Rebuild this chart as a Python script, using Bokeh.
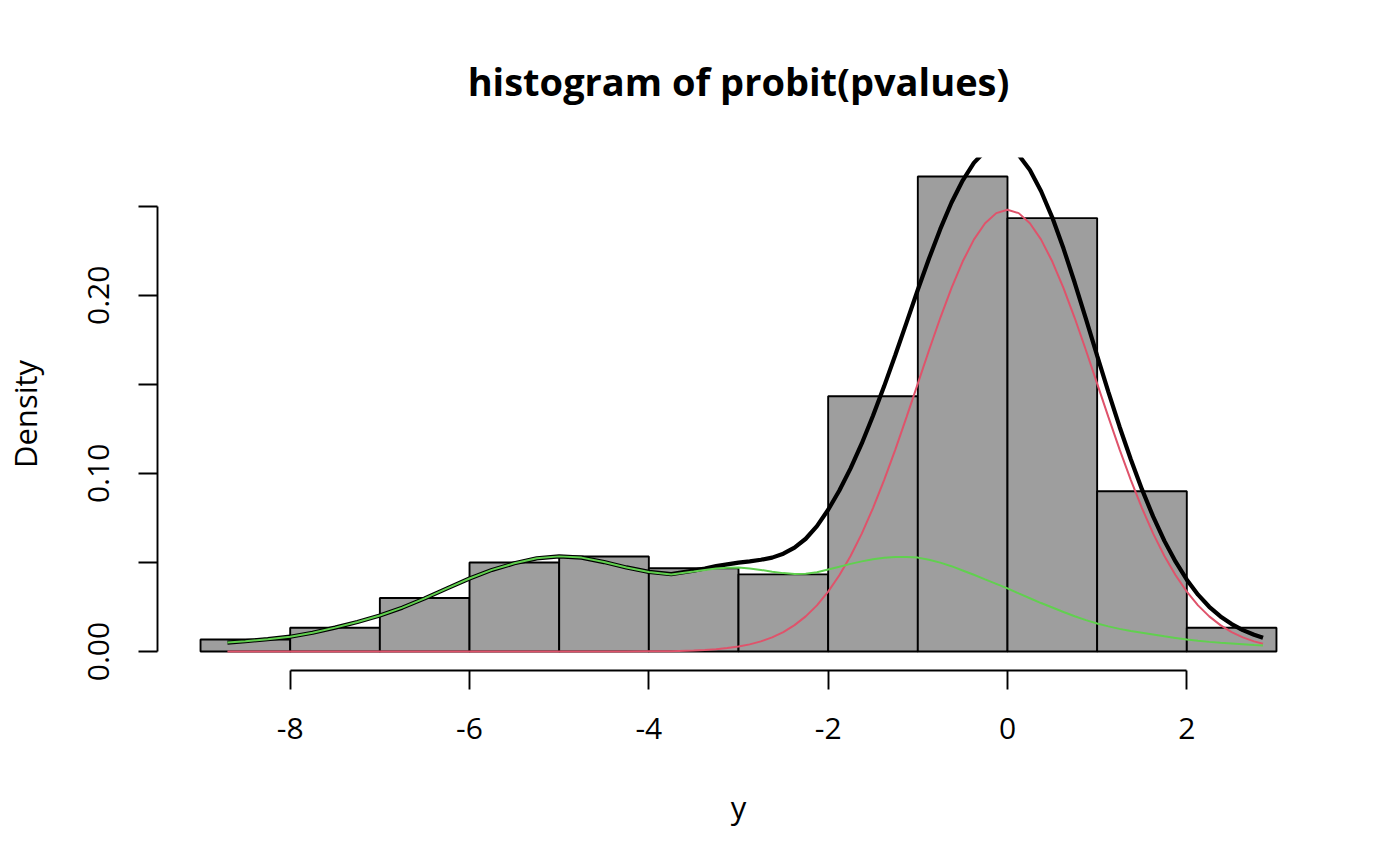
from bokeh.plotting import figure
from bokeh.models import Range1d, FixedTicker
from bokeh.embed import file_html
from bokeh.resources import INLINE

# ---- data ----
bin_left = [-9, -8, -7, -6, -5, -4, -3, -2, -1, 0, 1, 2]
bin_right = [-8, -7, -6, -5, -4, -3, -2, -1, 0, 1, 2, 3]
density = [0.0067, 0.0133, 0.0300, 0.0500, 0.0533, 0.0467, 0.0433,
           0.1433, 0.2667, 0.2433, 0.0900, 0.0133]

curve_x = [-8.7, -8.5, -8.25, -8.0, -7.75, -7.5, -7.25, -7.0, -6.75, -6.5,
           -6.25, -6.0, -5.75, -5.5, -5.25, -5.0, -4.75, -4.5, -4.25, -4.0,
           -3.75,
           -3.5, -3.375, -3.25, -3.125, -3.0, -2.875, -2.75, -2.625, -2.5, -2.375,
           -2.25, -2.125, -2.0, -1.875, -1.75, -1.625, -1.5, -1.375, -1.25, -1.125,
           -1.0, -0.875, -0.75, -0.625, -0.5, -0.375, -0.25, -0.125, 0.0, 0.125,
           0.25, 0.375, 0.5, 0.625, 0.75, 0.875, 1.0, 1.125, 1.25, 1.375,
           1.5, 1.625, 1.75, 1.875, 2.0, 2.125, 2.25, 2.375, 2.5, 2.625,
           2.75, 2.85]

null_density = [0.0, 0.0, 0.0, 0.0, 0.0, 0.0, 0.0, 0.0, 0.0, 0.0,
                0.0, 0.0, 0.0, 0.0, 0.0, 0.0, 0.0, 0.0, 0.0, 0.0001,
                0.0002,
                0.0005, 0.0008, 0.0013, 0.0019, 0.0028, 0.0040, 0.0057, 0.0079, 0.0109, 0.0148,
                0.0197, 0.0259, 0.0336, 0.0428, 0.0536, 0.0662, 0.0805, 0.0964, 0.1135, 0.1317,
                0.1504, 0.1691, 0.1872, 0.2040, 0.2189, 0.2312, 0.2404, 0.2461, 0.2480, 0.2461,
                0.2404, 0.2312, 0.2189, 0.2040, 0.1872, 0.1691, 0.1504, 0.1317, 0.1135, 0.0964,
                0.0805, 0.0662, 0.0536, 0.0428, 0.0336, 0.0259, 0.0197, 0.0148, 0.0109, 0.0079,
                0.0057, 0.0043]

alt_density = [0.0050, 0.0058, 0.0069, 0.0083, 0.0105, 0.0134, 0.0166, 0.0202, 0.0246, 0.0298,
               0.0354, 0.0410, 0.0458, 0.0495, 0.0523, 0.0534, 0.0527, 0.0502, 0.0472, 0.0446,
               0.0432,
               0.0449, 0.0458, 0.0466, 0.0470, 0.0471, 0.0466, 0.0458, 0.0448, 0.0440, 0.0435,
               0.0436, 0.0445, 0.0460, 0.0476, 0.0492, 0.0506, 0.0518, 0.0526, 0.0531, 0.0531,
               0.0527, 0.0515, 0.0499, 0.0479, 0.0455, 0.0431, 0.0405, 0.0380, 0.0354, 0.0326,
               0.0299, 0.0272, 0.0247, 0.0222, 0.0198, 0.0176, 0.0157, 0.0141, 0.0127, 0.0115,
               0.0105, 0.0095, 0.0085, 0.0076, 0.0067, 0.0060, 0.0054, 0.0049, 0.0045, 0.0041,
               0.0037, 0.0034]

total_density = [0.0050, 0.0058, 0.0069, 0.0083, 0.0105, 0.0134, 0.0166, 0.0202, 0.0246, 0.0298,
                 0.0354, 0.0410, 0.0458, 0.0495, 0.0523, 0.0534, 0.0527, 0.0502, 0.0472, 0.0447,
                 0.0434,
                 0.0454, 0.0466, 0.0479, 0.0489, 0.0499, 0.0506, 0.0515, 0.0527, 0.0549, 0.0583,
                 0.0633, 0.0704, 0.0796, 0.0904, 0.1028, 0.1168, 0.1323, 0.1490, 0.1666, 0.1848,
                 0.2031, 0.2206, 0.2371, 0.2519, 0.2644, 0.2743, 0.2809, 0.2841, 0.2834, 0.2787,
                 0.2703, 0.2584, 0.2436, 0.2262, 0.2070, 0.1867, 0.1661, 0.1458, 0.1262, 0.1079,
                 0.0910, 0.0757, 0.0621, 0.0504, 0.0403, 0.0319, 0.0251, 0.0197, 0.0154, 0.0120,
                 0.0094, 0.0077]

x_ticks = [-8, -6, -4, -2, 0, 2]
x_tick_labels = ["-8", "-6", "-4", "-2", "0", "2"]
y_ticks = [0.0, 0.05, 0.10, 0.15, 0.20, 0.25]
y_tick_labels = ["0.00", "", "0.10", "", "0.20", ""]

FONT = "Open Sans"

p = figure(width=1384, height=850, output_backend="svg", toolbar_location=None,
           x_range=Range1d(-9.48, 3.48), y_range=Range1d(-0.01067, 0.27733),
           min_border_left=157, min_border_right=65, min_border_top=157,
           min_border_bottom=180,
           title="histogram of probit(pvalues)")
p.background_fill_color = "white"
p.border_fill_color = "white"
p.outline_line_color = None
p.grid.visible = False

p.title.align = "center"
p.title.text_font = FONT
p.title.text_font_size = "38px"
p.title.text_font_style = "bold"
p.title.text_color = "black"
p.title.standoff = 101

p.quad(left=bin_left, right=bin_right, bottom=0, top=density,
       fill_color="#9E9E9E", line_color="black", line_width=1.9)

p.line(curve_x, total_density, line_color="black", line_width=4.2)
p.line(curve_x, null_density, line_color="#DF536B", line_width=2)
p.line(curve_x, alt_density, line_color="#61D04F", line_width=2)

for ax in (p.xaxis[0], p.yaxis[0]):
    ax.axis_line_width = 1.9
    ax.axis_line_color = "black"
    ax.major_tick_line_width = 1.9
    ax.major_tick_line_color = "black"
    ax.major_tick_out = 19
    ax.major_tick_in = 0
    ax.minor_tick_out = 0
    ax.minor_tick_in = 0
    ax.major_label_text_font = FONT
    ax.major_label_text_font_size = "30px"
    ax.major_label_text_color = "black"
    ax.axis_label_text_font = FONT
    ax.axis_label_text_font_size = "31px"
    ax.axis_label_text_font_style = "normal"
    ax.axis_label_text_color = "black"

xa = p.xaxis[0]
xa.ticker = FixedTicker(ticks=x_ticks)
xa.bounds = (x_ticks[0], x_ticks[-1])
xa.major_label_overrides = {t: lab for t, lab in zip(x_ticks, x_tick_labels)}
xa.axis_label = "y"
xa.major_label_standoff = 28
xa.axis_label_standoff = 44

ya = p.yaxis[0]
ya.ticker = FixedTicker(ticks=y_ticks)
ya.bounds = (y_ticks[0], y_ticks[-1])
ya.major_label_overrides = {t: lab for t, lab in zip(y_ticks, y_tick_labels)}
ya.major_label_orientation = "vertical"
ya.axis_label = "Density"
ya.major_label_standoff = 29
ya.axis_label_standoff = 40

open("out.html", "w").write(file_html(p, INLINE))
